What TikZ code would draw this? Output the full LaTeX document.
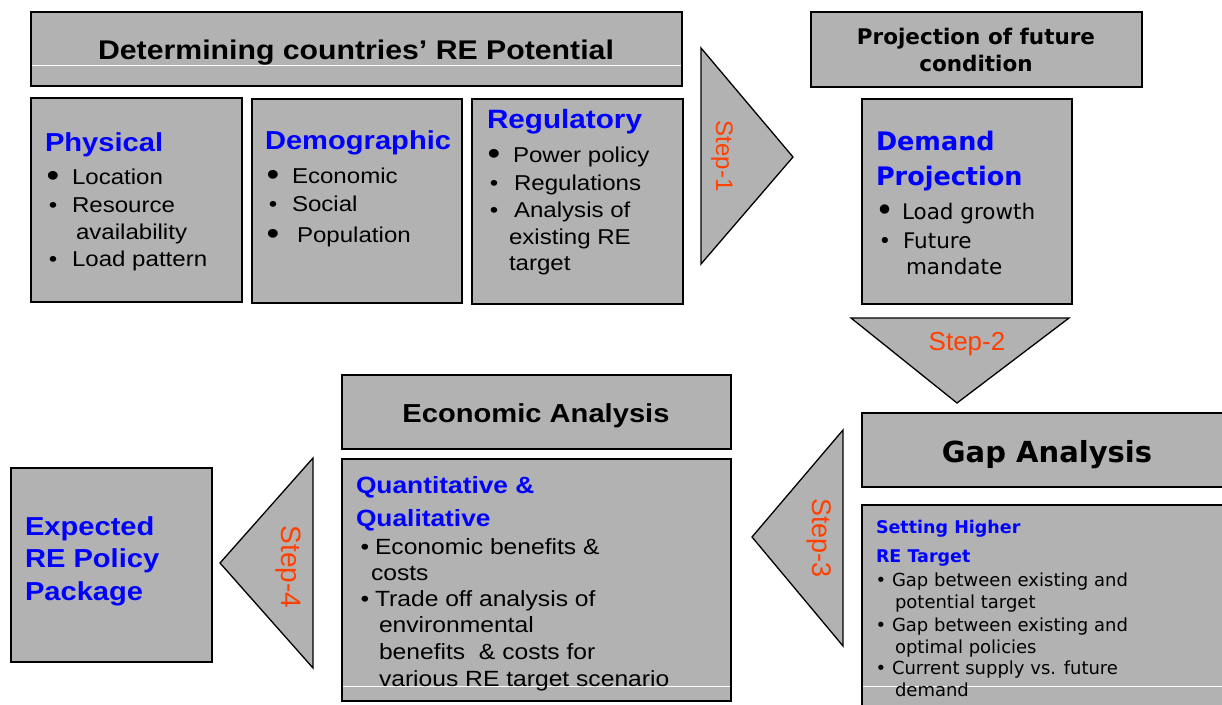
\documentclass[tikz,border=0pt]{standalone}
\usepackage{fontspec}
\setmainfont{Liberation Sans}
\newfontfamily\tah[FakeStretch=1.12]{Liberation Sans}
\newfontfamily\tahn{Liberation Sans}
\newfontfamily\verd{DejaVu Sans}
\definecolor{boxgray}{RGB}{178,178,178}
\definecolor{headblue}{RGB}{0,0,255}
\definecolor{steporange}{RGB}{255,64,0}
\tikzset{
  box/.style={draw=black, fill=boxgray, line width=1.6pt, inner sep=0pt, outer sep=0pt, anchor=north west},
  tri/.style={draw=black, fill=boxgray, line width=1.3pt, line join=miter},
  txt/.style={inner sep=0pt, outer sep=0pt},
  bhead/.style={txt, text=headblue, anchor=base west, font=\tah\bfseries\fontsize{26}{30}\selectfont},
  vhead/.style={txt, text=headblue, anchor=base west, font=\verd\bfseries\fontsize{25.5}{30}\selectfont},
  ttl/.style={txt, text=black, anchor=base, font=\tah\bfseries\fontsize{26}{30}\selectfont},
  vttl/.style={txt, text=black, anchor=base, font=\verd\bfseries\fontsize{21.5}{26}\selectfont},
  titm/.style={txt, text=black, font=\tah\fontsize{21.5}{26}\selectfont},
  eitm/.style={txt, text=black, font=\tah\fontsize{22}{26}\selectfont},
  vitm/.style={txt, text=black, font=\verd\fontsize{21.5}{26}\selectfont},
  gitm/.style={txt, text=black, font=\verd\fontsize{18}{22}\selectfont},
  steplbl/.style={txt, text=steporange, font=\tahn\fontsize{26}{30}\selectfont},
  whiteline/.style={draw=white, line width=1pt}
}
\newcommand\bitem[6]{%
  \node[#1, anchor=base] (#2b) at (#3,#5) {\textbullet};
  \node[#1, anchor=base west] (#2) at (#4,#5) {#6};}
\newcommand\bigitem[6]{%
  \node[#1, anchor=base] (#2b) at (#3,#5) {\raisebox{-0.1em}{\scalebox{1.5}{\textbullet}}};
  \node[#1, anchor=base west] (#2) at (#4,#5) {#6};}
\newcommand\contline[5]{%
  \node[#1, anchor=base west] (#2) at (#3,#4) {#5};}
\begin{document}
\begin{tikzpicture}[x=1pt,y=-1pt]
\useasboundingbox (0,0) rectangle (1222,704);

% ---------- top left: Determining RE potential ----------
\node[box, minimum width=651pt, minimum height=74pt] (det) at (31,12) {};
\draw[whiteline] (32,65) -- (681,65);
\node[ttl, font=\tah\bfseries\fontsize{27}{30}\selectfont] (detT) at (356,59) {Determining countries’ RE Potential};

\node[box, minimum width=211pt, minimum height=204pt] (phys) at (31,98) {};
\node[bhead] (physT) at (45,151) {Physical};
\bigitem{titm}{p1}{53}{72}{184}{Location}
\bitem{titm}{p2}{53}{72}{212}{Resource}
\contline{titm}{p2c}{76}{239}{availability}
\bitem{titm}{p3}{53}{72}{266}{Load pattern}

\node[box, minimum width=210pt, minimum height=204pt] (demo) at (252,99) {};
\node[bhead] (demoT) at (265,149) {Demographic};
\bigitem{titm}{d1}{273}{292}{183}{Economic}
\bitem{titm}{d2}{273}{292}{211}{Social}
\bigitem{titm}{d3}{273}{297}{242}{Population}

\node[box, minimum width=211pt, minimum height=205pt] (reg) at (472,99) {};
\node[bhead, font=\tah\bfseries\fontsize{26.5}{30}\selectfont] (regT) at (487,128) {Regulatory};
\bigitem{titm}{r1}{494}{513}{162}{Power policy}
\bitem{titm}{r2}{494}{514}{190}{Regulations}
\bitem{titm}{r3}{494}{514}{217}{Analysis of}
\contline{titm}{r3c}{509}{244}{existing RE}
\contline{titm}{r3d}{509}{270}{target}

% ---------- Step 1 ----------
\draw[tri] (701,48) -- (793,157) -- (701,264) -- cycle;
\node[steplbl, rotate=-90, font=\tahn\fontsize{24}{28}\selectfont] (s1) at (722,156) {Step-1};

% ---------- top right ----------
\node[box, minimum width=331pt, minimum height=75pt] (proj) at (811,12) {};
\node[vttl] (projT1) at (976,44) {Projection of future};
\node[vttl] (projT2) at (976,71) {condition};

\node[box, minimum width=210pt, minimum height=205pt] (dem) at (862,99) {};
\node[vhead] (demT1) at (876,150) {Demand};
\node[vhead] (demT2) at (876,185) {Projection};
\bigitem{vitm}{m1}{885}{902}{219}{Load growth}
\bitem{vitm}{m2}{885}{903}{248}{Future}
\contline{vitm}{m2c}{906}{274}{mandate}

% ---------- Step 2 ----------
\draw[tri] (851,318) -- (1069,318) -- (957,403) -- cycle;
\node[steplbl, anchor=base] (s2) at (967,350) {Step-2};

% ---------- Gap analysis ----------
\node[box, minimum width=370pt, minimum height=74pt] (gap) at (862,413) {};
\node[vttl, font=\verd\bfseries\fontsize{29}{32}\selectfont] (gapT) at (1047,462) {Gap Analysis};

\node[box, minimum width=370pt, minimum height=210pt] (gapb) at (862,505) {};
\draw[whiteline] (863,686) -- (1222,686);
\node[vhead, font=\verd\bfseries\fontsize{17.5}{22}\selectfont] (gapH1) at (876,533) {Setting Higher};
\node[vhead, font=\verd\bfseries\fontsize{17.5}{22}\selectfont] (gapH2) at (876,562) {RE Target};
\bitem{gitm}{g1}{881}{892}{586}{Gap between existing and}
\contline{gitm}{g1c}{895}{608}{potential target}
\bitem{gitm}{g2}{881}{892}{631}{Gap between existing and}
\contline{gitm}{g2c}{895}{653}{optimal policies}
\bitem{gitm}{g3}{881}{892}{674}{Current supply vs. future}
\contline{gitm}{g3c}{895}{696}{demand}

% ---------- Step 3 ----------
\draw[tri] (843,430) -- (752,537) -- (843,646) -- cycle;
\node[steplbl, rotate=-90, font=\tahn\fontsize{27}{30}\selectfont] (s3) at (819,538) {Step-3};

% ---------- Economic analysis ----------
\node[box, minimum width=389pt, minimum height=74pt] (eco) at (342,375) {};
\node[ttl] (ecoT) at (536,422) {Economic Analysis};

\node[box, minimum width=389pt, minimum height=242pt] (ecob) at (342,459) {};
\draw[whiteline] (343,686) -- (730,686);
\node[bhead, font=\tah\bfseries\fontsize{23.5}{28}\selectfont] (ecoH1) at (356,493) {Quantitative \&};
\node[bhead, font=\tah\bfseries\fontsize{23.5}{28}\selectfont] (ecoH2) at (356,526) {Qualitative};
\bitem{eitm}{e1}{365}{375}{554}{Economic benefits \&}
\contline{eitm}{e1c}{371}{580}{costs}
\bitem{eitm}{e2}{365}{375}{606}{Trade off analysis of}
\contline{eitm}{e2c}{379}{632}{environmental}
\contline{eitm}{e2d}{379}{659}{benefits\ \ \& costs for}
\contline{eitm}{e2e}{379}{686}{various RE target scenario}

% ---------- Step 4 ----------
\draw[tri] (313,458) -- (220,563) -- (313,668) -- cycle;
\node[steplbl, rotate=-90, font=\tahn\fontsize{28}{30}\selectfont] (s4) at (288,567) {Step-4};

% ---------- Expected ----------
\node[box, minimum width=201pt, minimum height=194pt] (exp) at (11,468) {};
\node[bhead] (expT1) at (25,535) {Expected};
\node[bhead] (expT2) at (25,567) {RE Policy};
\node[bhead] (expT3) at (25,600) {Package};
\end{tikzpicture}
\end{document}
